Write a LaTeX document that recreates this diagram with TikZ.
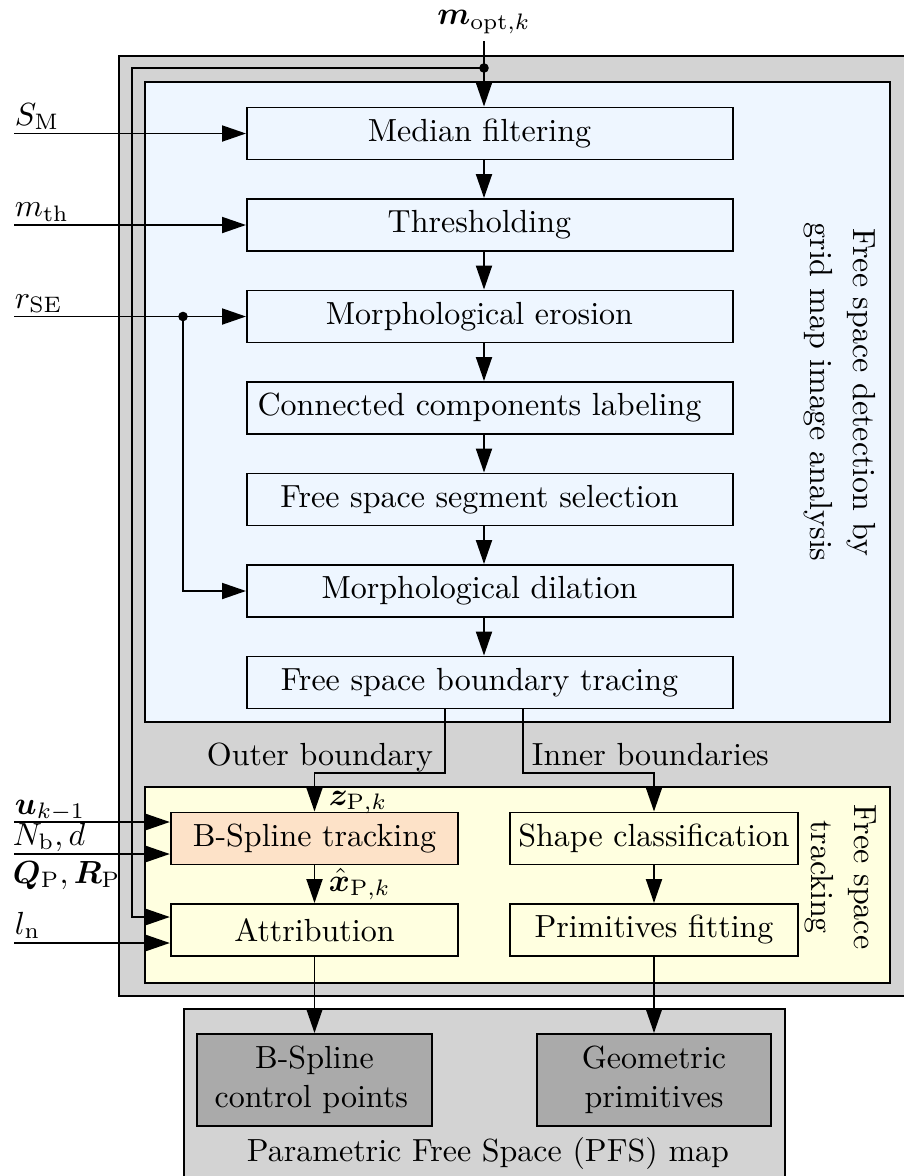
\documentclass[tikz,border=0pt]{standalone}
\usepackage{amsmath,bm}
\usetikzlibrary{arrows.meta,calc}
\definecolor{outergray}{RGB}{211,211,211}
\definecolor{bluebg}{RGB}{238,246,255}
\definecolor{yellowbg}{RGB}{255,255,224}
\definecolor{peach}{RGB}{253,226,200}
\definecolor{darkbox}{RGB}{170,170,170}
\begin{document}
\begin{tikzpicture}[x=0.3125pt,y=-0.3125pt, line width=0.6pt,
  arr/.style={-{Triangle[length=7.5pt,width=5pt]}},
  container/.style={draw, anchor=north west, inner sep=0pt},
  stepbox/.style={draw, fill=bluebg, minimum width=151.9pt, minimum height=16.25pt, inner sep=0pt, execute at end node={\hspace*{6.6pt}}},
  trackbox/.style={draw, fill=yellowbg, minimum width=89.8pt, minimum height=16.25pt, inner sep=0pt},
  outbox/.style={draw, fill=darkbox, minimum width=73.4pt, minimum height=28.75pt, inner sep=0pt, align=center},
  lbl/.style={inner sep=0pt},
  dot/.style={circle, fill=black, inner sep=0pt, minimum size=3pt}
]
\useasboundingbox (0,0) rectangle (904,1176);
% containers
\node[container, fill=outergray, minimum width=246.9pt, minimum height=293.75pt] (outer) at (118,55) {};
\node[container, fill=bluebg, minimum width=232.8pt, minimum height=200pt] (detect) at (144,81) {};
\node[container, fill=yellowbg, minimum width=232.8pt, minimum height=61.25pt] (track) at (144,786) {};
\node[container, fill=outergray, minimum width=187.8pt, minimum height=57pt] (pfs) at (183,1008) {};

% detection steps
\node[stepbox] (median) at (490,133.5) {Median filtering};
\node[stepbox] (thresh) at (490,225) {Thresholding};
\node[stepbox] (erosion) at (490,316.5) {Morphological erosion};
\node[stepbox] (ccl) at (490,408) {Connected components labeling};
\node[stepbox] (fss) at (490,499.5) {Free space segment selection};
\node[stepbox] (dilation) at (490,591) {Morphological dilation};
\node[stepbox] (trace) at (490,682.5) {Free space boundary tracing};

% tracking steps
\node[trackbox, fill=peach] (bst) at (314.5,838.5) {B-Spline tracking};
\node[trackbox] (attr) at (314.5,930) {Attribution};
\node[trackbox] (shape) at (654,838.5) {Shape classification};
\node[trackbox] (prim) at (654,930) {Primitives fitting};

% outputs
\node[outbox] (bcp) at (314.5,1080) {B-Spline\\control points\hspace*{2pt}};
\node[outbox] (geo) at (654,1080) {Geometric\\primitives};
\node[lbl] (pfslabel) at (488,1153) {Parametric Free Space (PFS) map};

% rotated labels
\node[lbl, rotate=-90, align=center] (detlabel) at (840,392) {Free space detection by\\[1.4pt]grid map image analysis};
\node[lbl, rotate=-90, align=center] (trlabel) at (841,877) {Free space\\[1.4pt]tracking};

% chain arrows in detection
\coordinate (mx) at (484,0);
\draw[arr] (median.south -| mx) -- (thresh.north -| mx);
\draw[arr] (thresh.south -| mx) -- (erosion.north -| mx);
\draw[arr] (erosion.south -| mx) -- (ccl.north -| mx);
\draw[arr] (ccl.south -| mx) -- (fss.north -| mx);
\draw[arr] (fss.south -| mx) -- (dilation.north -| mx);
\draw[arr] (dilation.south -| mx) -- (trace.north -| mx);

% m_opt input and loop
\node[lbl] (mopt) at (484,22) {$\bm{m}_{\mathrm{opt},k}$};
\coordinate (mtop) at (484,41);
\coordinate (mdot) at (484,68);
\coordinate (loopc) at (132,68);
\draw[arr] (mtop) -- (median.north -| mtop);
\draw[arr] (mdot) -- (loopc) |- ($(attr.west)+(0,-13)$);
\node[dot] (mdotn) at (mdot) {};

% left inputs of detection
\coordinate (sm) at (14,133.5);
\coordinate (mth) at (14,225);
\coordinate (rse) at (14,316.5);
\coordinate (rdot) at (183,316.5);
\draw[arr] (sm) -- (median.west);
\draw[arr] (mth) -- (thresh.west);
\draw[arr] (rse) -- (erosion.west);
\draw[arr] (rdot) |- (dilation.west);
\node[dot] (rdotn) at (rdot) {};
\node[lbl, anchor=base west] (smlabel) at (14,125) {$S_{\mathrm{M}}$};
\node[lbl, anchor=base west] (mthlabel) at (14,216.5) {$m_{\mathrm{th}}$};
\node[lbl, anchor=base west] (rselabel) at (14,308) {$r_{\mathrm{SE}}$};

% boundaries
\coordinate (ob1) at (445,773);
\coordinate (ib1) at (523,773);
\draw[arr] (trace.south -| ob1) -- (ob1) -| (bst.north);
\draw[arr] (trace.south -| ib1) -- (ib1) -| (shape.north);
\node[lbl, anchor=base east] (oblabel) at (434,765) {Outer boundary};
\node[lbl, anchor=base west] (iblabel) at (531,765) {Inner boundaries};

% tracking arrows
\draw[arr] (bst) -- (attr);
\draw[arr] (shape) -- (prim);
\node[lbl, anchor=base west] (zlabel) at (328,805) {$\bm{z}_{\mathrm{P},k}$};
\node[lbl, anchor=base west] (xlabel) at (328,891) {$\hat{\bm{x}}_{\mathrm{P},k}$};

% left inputs of tracking
\coordinate (uin) at (14,822);
\coordinate (nin) at (14,854);
\coordinate (lin) at (14,943);
\draw[arr] (uin) -- ($(bst.west)+(0,-16.5)$);
\draw[arr] (nin) -- ($(bst.west)+(0,15.5)$);
\draw[arr] (lin) -- ($(attr.west)+(0,13)$);
\node[lbl, anchor=base west] (ulabel) at (14,814) {$\bm{u}_{k-1}$};
\node[lbl, anchor=base west] (nlabel) at (12,845) {$N_{\mathrm{b}}, d$};
\node[lbl, anchor=base west] (qlabel) at (12,883) {$\bm{Q}_{\mathrm{P}}, \bm{R}_{\mathrm{P}}$};
\node[lbl, anchor=base west] (llabel) at (14,934) {$l_{\mathrm{n}}$};

% outputs
\draw[arr] (attr) -- (bcp);
\draw[arr] (prim) -- (geo);
\end{tikzpicture}
\end{document}
